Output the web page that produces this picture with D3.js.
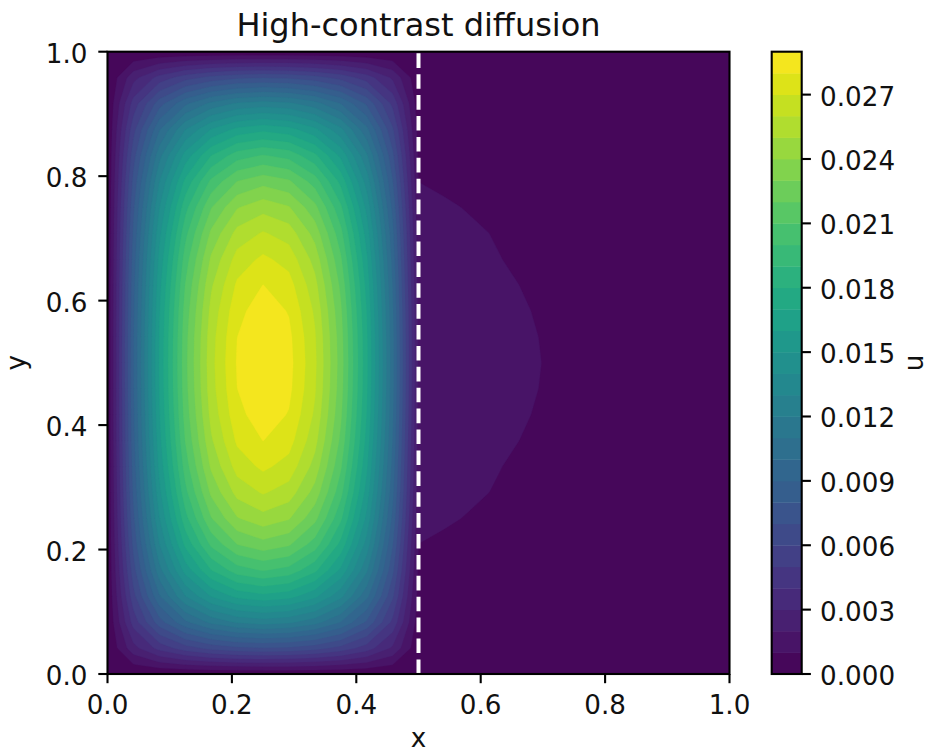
<!DOCTYPE html>
<html><head><meta charset="utf-8">
<script src="https://cdn.jsdelivr.net/npm/d3@7"></script>
<style>body{margin:0;background:#fff}text{font-family:"DejaVu Sans",sans-serif;fill:#111}</style>
</head><body>
<svg id="chart" width="930" height="753"></svg>
<script>
// ---------- data ----------
const chartTitle = "High-contrast diffusion";
const xLabel = "x", yLabel = "y", cbarLabel = "u";
const xTicks = [0.0, 0.2, 0.4, 0.6, 0.8, 1.0];
const yTicks = [0.0, 0.2, 0.4, 0.6, 0.8, 1.0];
const cbarTicks = [0.000, 0.003, 0.006, 0.009, 0.012, 0.015, 0.018, 0.021, 0.024, 0.027];
const levels = [0.000,0.001,0.002,0.003,0.004,0.005,0.006,0.007,0.008,0.009,0.010,
                0.011,0.012,0.013,0.014,0.015,0.016,0.017,0.018,0.019,0.020,
                0.021,0.022,0.023,0.024,0.025,0.026,0.027,0.028,0.029];
const interfaceX = 0.5;
// grid node coordinates (25 x 25 nodes)
const gridX = [0,0.0417,0.0833,0.125,0.1667,0.2083,0.25,0.2917,0.3333,0.375,0.4167,0.4583,0.5,
               0.5417,0.5833,0.625,0.6667,0.7083,0.75,0.7917,0.8333,0.875,0.9167,0.9583,1.0];
const gridY = [0,0.0417,0.0833,0.125,0.1667,0.2083,0.25,0.2917,0.3333,0.375,0.4167,0.4583,0.5,
               0.5417,0.5833,0.625,0.6667,0.7083,0.75,0.7917,0.8333,0.875,0.9167,0.9583,1.0];
// u values, one row per gridY (bottom to top), one column per gridX
const uGrid = [
[0,0,0,0,0,0,0,0,0,0,0,0,0,0,0,0,0,0,0,0,0,0,0,0,0],
[0,0.002657,0.004377,0.005561,0.006334,0.006781,0.006942,0.006811,0.006398,0.005658,0.004508,0.002825,0.00021,0.000187,0.000166,0.000147,0.000129,0.000112,0.000097,0.000082,0.000067,0.000053,0.000036,0.000018,0],
[0,0.004406,0.007551,0.009769,0.011256,0.012124,0.012426,0.012183,0.011384,0.009963,0.007812,0.004743,0.00042,0.000374,0.000332,0.000294,0.000258,0.000225,0.000193,0.000164,0.000134,0.000105,0.000071,0.000036,0],
[0,0.005656,0.00989,0.012966,0.015061,0.016295,0.016725,0.016382,0.01525,0.013252,0.010276,0.006153,0.00062,0.000552,0.00049,0.000434,0.000381,0.000332,0.000285,0.000242,0.000198,0.000155,0.000105,0.000053,0],
[0,0.006575,0.01164,0.015393,0.017985,0.019523,0.020064,0.019638,0.018235,0.015771,0.01215,0.007233,0.00082,0.00073,0.000648,0.000574,0.000504,0.000439,0.000377,0.00032,0.000262,0.000205,0.000139,0.00007,0],
[0,0.007262,0.012956,0.017235,0.020219,0.022004,0.022635,0.022143,0.020523,0.017693,0.013575,0.00806,0.000995,0.000886,0.000786,0.000697,0.000612,0.000532,0.000458,0.000388,0.000318,0.000249,0.000169,0.000085,0],
[0,0.00778,0.013953,0.018638,0.021931,0.023911,0.024617,0.024081,0.0223,0.019195,0.014706,0.00875,0.00121,0.001077,0.000956,0.000847,0.000744,0.000647,0.000557,0.000472,0.000387,0.000303,0.000206,0.000103,0],
[0,0.008166,0.014696,0.019686,0.02321,0.025339,0.026099,0.025525,0.023616,0.020326,0.015558,0.009274,0.00138,0.001228,0.00109,0.000966,0.000849,0.000738,0.000635,0.000538,0.000442,0.000345,0.000235,0.000117,0],
[0,0.008451,0.015249,0.020465,0.024167,0.026408,0.027213,0.026614,0.024615,0.021142,0.016163,0.00963,0.00147,0.001308,0.001161,0.001029,0.000904,0.000786,0.000676,0.000573,0.00047,0.000368,0.00025,0.000125,0],
[0,0.008655,0.015642,0.021022,0.024849,0.027174,0.028013,0.027398,0.025337,0.021758,0.016637,0.009938,0.0016,0.001424,0.001264,0.00112,0.000984,0.000856,0.000736,0.000624,0.000512,0.0004,0.000272,0.000136,0],
[0,0.008793,0.015907,0.021398,0.025311,0.027691,0.028552,0.027929,0.025829,0.02218,0.016964,0.010156,0.0017,0.001513,0.001343,0.00119,0.001046,0.00091,0.000782,0.000663,0.000544,0.000425,0.000289,0.000145,0],
[0,0.008871,0.016061,0.021616,0.025579,0.027992,0.028869,0.02824,0.026119,0.022431,0.017162,0.010291,0.00177,0.001575,0.001398,0.001239,0.001089,0.000947,0.000814,0.00069,0.000566,0.000443,0.000301,0.00015,0],
[0,0.008897,0.016111,0.021688,0.025667,0.028093,0.028974,0.028345,0.026216,0.022515,0.017231,0.010341,0.0018,0.001602,0.001422,0.00126,0.001107,0.000963,0.000828,0.000702,0.000576,0.00045,0.000306,0.000153,0],
[0,0.008871,0.016061,0.021616,0.025579,0.027992,0.028869,0.02824,0.026119,0.022431,0.017162,0.010291,0.00177,0.001575,0.001398,0.001239,0.001089,0.000947,0.000814,0.00069,0.000566,0.000443,0.000301,0.00015,0],
[0,0.008793,0.015907,0.021398,0.025311,0.027691,0.028552,0.027929,0.025829,0.02218,0.016964,0.010156,0.0017,0.001513,0.001343,0.00119,0.001046,0.00091,0.000782,0.000663,0.000544,0.000425,0.000289,0.000145,0],
[0,0.008655,0.015642,0.021022,0.024849,0.027174,0.028013,0.027398,0.025337,0.021758,0.016637,0.009938,0.0016,0.001424,0.001264,0.00112,0.000984,0.000856,0.000736,0.000624,0.000512,0.0004,0.000272,0.000136,0],
[0,0.008451,0.015249,0.020465,0.024167,0.026408,0.027213,0.026614,0.024615,0.021142,0.016163,0.00963,0.00147,0.001308,0.001161,0.001029,0.000904,0.000786,0.000676,0.000573,0.00047,0.000368,0.00025,0.000125,0],
[0,0.008166,0.014696,0.019686,0.02321,0.025339,0.026099,0.025525,0.023616,0.020326,0.015558,0.009274,0.00138,0.001228,0.00109,0.000966,0.000849,0.000738,0.000635,0.000538,0.000442,0.000345,0.000235,0.000117,0],
[0,0.00778,0.013953,0.018638,0.021931,0.023911,0.024617,0.024081,0.0223,0.019195,0.014706,0.00875,0.00121,0.001077,0.000956,0.000847,0.000744,0.000647,0.000557,0.000472,0.000387,0.000303,0.000206,0.000103,0],
[0,0.007262,0.012956,0.017235,0.020219,0.022004,0.022635,0.022143,0.020523,0.017693,0.013575,0.00806,0.000995,0.000886,0.000786,0.000697,0.000612,0.000532,0.000458,0.000388,0.000318,0.000249,0.000169,0.000085,0],
[0,0.006575,0.01164,0.015393,0.017985,0.019523,0.020064,0.019638,0.018235,0.015771,0.01215,0.007233,0.00082,0.00073,0.000648,0.000574,0.000504,0.000439,0.000377,0.00032,0.000262,0.000205,0.000139,0.00007,0],
[0,0.005656,0.00989,0.012966,0.015061,0.016295,0.016725,0.016382,0.01525,0.013252,0.010276,0.006153,0.00062,0.000552,0.00049,0.000434,0.000381,0.000332,0.000285,0.000242,0.000198,0.000155,0.000105,0.000053,0],
[0,0.004406,0.007551,0.009769,0.011256,0.012124,0.012426,0.012183,0.011384,0.009963,0.007812,0.004743,0.00042,0.000374,0.000332,0.000294,0.000258,0.000225,0.000193,0.000164,0.000134,0.000105,0.000071,0.000036,0],
[0,0.002657,0.004377,0.005561,0.006334,0.006781,0.006942,0.006811,0.006398,0.005658,0.004508,0.002825,0.00021,0.000187,0.000166,0.000147,0.000129,0.000112,0.000097,0.000082,0.000067,0.000053,0.000036,0.000018,0],
[0,0,0,0,0,0,0,0,0,0,0,0,0,0,0,0,0,0,0,0,0,0,0,0,0]
];

// ---------- layout ----------
const L = 107.5, R = 729.5, T = 51.7, B = 674;
const cbL = 771.7, cbR = 801.7;
const tickLen = 9.2, tickW = 2.1, tickFont = 26.2, titleFont = 32;

const svg = d3.select("#chart");
const xScale = d3.scaleLinear().domain([0, 1]).range([L, R]);
const yScale = d3.scaleLinear().domain([0, 1]).range([B, T]);
const vmax = levels[levels.length - 1];
const bandColor = i => d3.interpolateViridis(((levels[i] + levels[i + 1]) / 2) / vmax);

// contour field
const nx = gridX.length, ny = gridY.length;
const xIdx = d3.scaleLinear().domain([0, nx - 1]).range([gridX[0], gridX[nx - 1]]);
const yIdx = d3.scaleLinear().domain([0, ny - 1]).range([gridY[0], gridY[ny - 1]]);
const values = uGrid.flat();
const contours = d3.contours().size([nx, ny]).thresholds(levels.slice(0, -1))(values);
const proj = d3.geoTransform({
  point(px, py) { this.stream.point(xScale(xIdx(px - 0.5)), yScale(yIdx(py - 0.5))); }
});
const path = d3.geoPath(proj);

svg.append("clipPath").attr("id", "plotclip").append("rect")
  .attr("x", L).attr("y", T).attr("width", R - L).attr("height", B - T);

const gField = svg.append("g").attr("clip-path", "url(#plotclip)");
gField.selectAll("path").data(contours).join("path")
  .attr("d", path)
  .attr("fill", (d, i) => bandColor(i))
  .attr("stroke", (d, i) => bandColor(i))
  .attr("stroke-width", 0.3);

// interface dashed line
gField.append("line")
  .attr("x1", xScale(interfaceX)).attr("x2", xScale(interfaceX))
  .attr("y1", yScale(0)).attr("y2", yScale(1))
  .attr("stroke", "#fff").attr("stroke-width", 4)
  .attr("stroke-dasharray", "14.6,6.3");

// spines
svg.append("rect").attr("x", L).attr("y", T).attr("width", R - L).attr("height", B - T)
  .attr("fill", "none").attr("stroke", "#000").attr("stroke-width", tickW);

// x ticks
const gx = svg.append("g");
xTicks.forEach(v => {
  const x = xScale(v);
  gx.append("line").attr("x1", x).attr("x2", x).attr("y1", B).attr("y2", B + tickLen)
    .attr("stroke", "#000").attr("stroke-width", tickW);
  gx.append("text").attr("x", x).attr("y", 713.5).attr("text-anchor", "middle")
    .attr("font-size", tickFont).text(v.toFixed(1));
});
// y ticks
const gy = svg.append("g");
yTicks.forEach(v => {
  const y = yScale(v);
  gy.append("line").attr("x1", L - tickLen).attr("x2", L).attr("y1", y).attr("y2", y)
    .attr("stroke", "#000").attr("stroke-width", tickW);
  gy.append("text").attr("x", 87.5).attr("y", y + 11).attr("text-anchor", "end")
    .attr("font-size", tickFont).text(v.toFixed(1));
});

// axis labels and title
svg.append("text").attr("x", (L + R) / 2).attr("y", 747).attr("text-anchor", "middle")
  .attr("font-size", tickFont).text(xLabel);
svg.append("text").attr("transform", `translate(25,${(T + B) / 2}) rotate(-90)`)
  .attr("text-anchor", "middle").attr("font-size", tickFont).text(yLabel);
svg.append("text").attr("x", (L + R) / 2).attr("y", 35.5).attr("text-anchor", "middle")
  .attr("font-size", titleFont).text(chartTitle);

// colorbar
const cbScale = d3.scaleLinear().domain([levels[0], vmax]).range([B, T]);
const gcb = svg.append("g");
d3.range(levels.length - 1).forEach(i => {
  gcb.append("rect").attr("x", cbL).attr("width", cbR - cbL)
    .attr("y", cbScale(levels[i + 1])).attr("height", cbScale(levels[i]) - cbScale(levels[i + 1]) + 0.4)
    .attr("fill", bandColor(i));
});
gcb.append("rect").attr("x", cbL).attr("y", T).attr("width", cbR - cbL).attr("height", B - T)
  .attr("fill", "none").attr("stroke", "#000").attr("stroke-width", tickW);
cbarTicks.forEach(v => {
  const y = cbScale(v);
  gcb.append("line").attr("x1", cbR).attr("x2", cbR + tickLen).attr("y1", y).attr("y2", y)
    .attr("stroke", "#000").attr("stroke-width", tickW);
  gcb.append("text").attr("x", cbR + tickLen + 9.2).attr("y", y + 11)
    .attr("font-size", tickFont).text(v.toFixed(3));
});
svg.append("text").attr("transform", `translate(923,${(T + B) / 2}) rotate(-90)`)
  .attr("text-anchor", "middle").attr("font-size", tickFont).text(cbarLabel);
</script>
</body></html>
